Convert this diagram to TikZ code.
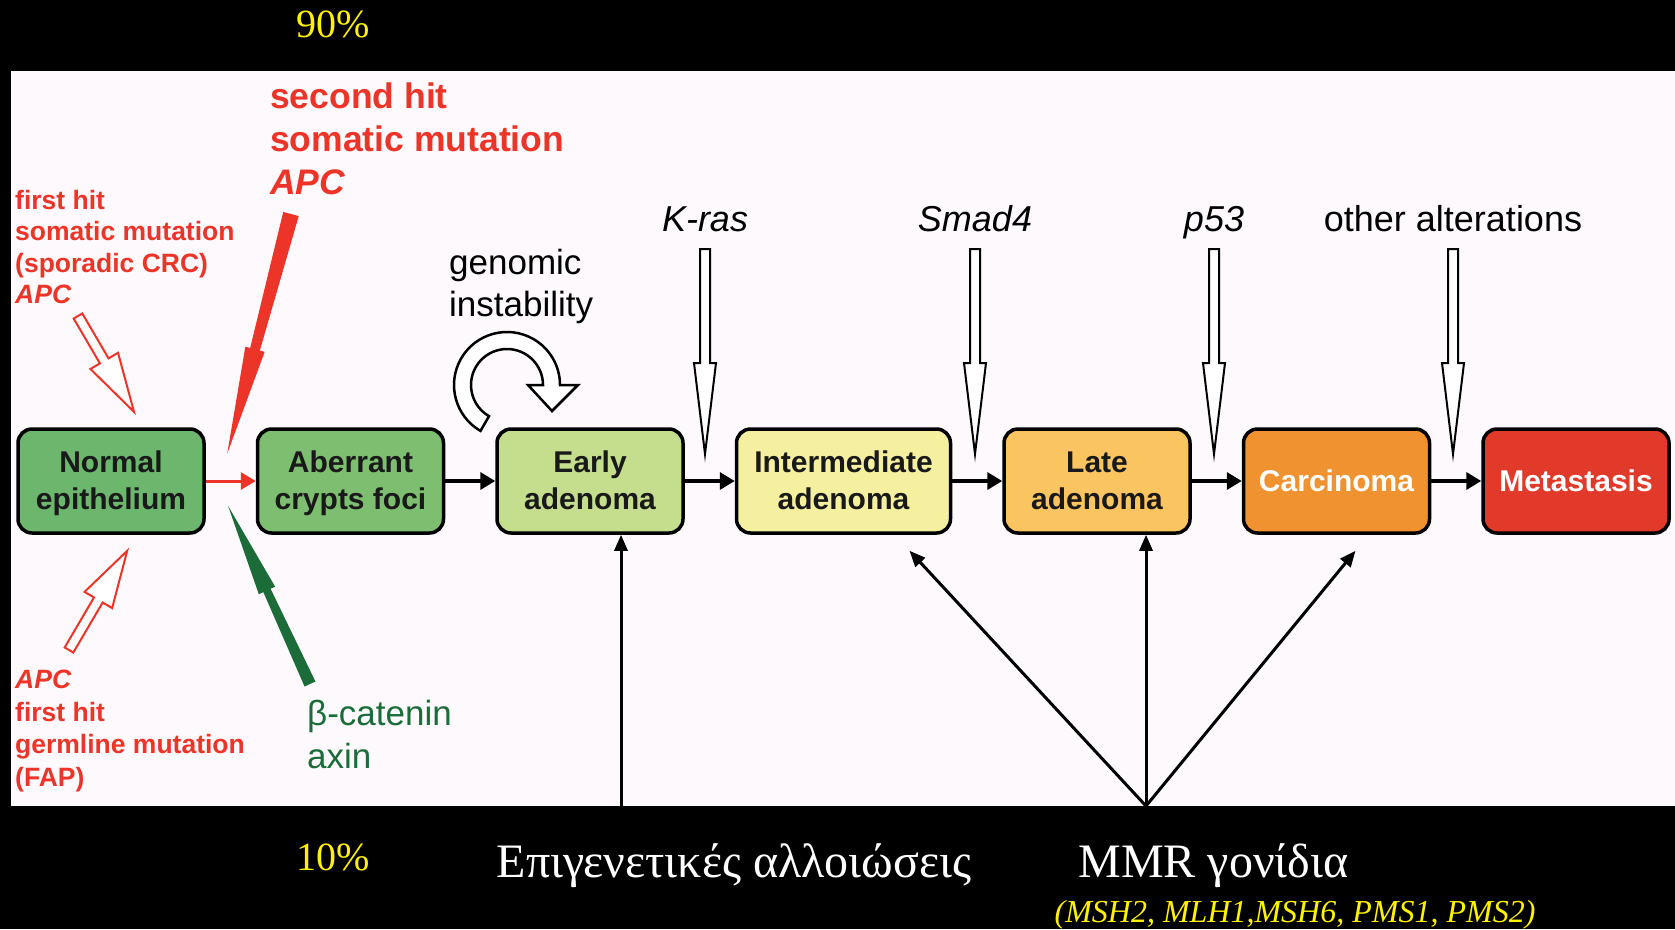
\documentclass[tikz,border=0pt]{standalone}
\usepackage{fontspec}
\setmainfont{Liberation Sans}
\newfontfamily\serifgr{Liberation Serif}
\usetikzlibrary{positioning,calc,arrows.meta}

\definecolor{panel}{RGB}{253,249,252}
\definecolor{hitred}{RGB}{236,52,40}
\definecolor{catgreen}{RGB}{28,108,58}
\definecolor{stnormal}{RGB}{108,182,110}
\definecolor{staberr}{RGB}{126,190,112}
\definecolor{stearly}{RGB}{196,222,142}
\definecolor{stinter}{RGB}{245,240,160}
\definecolor{stlate}{RGB}{250,196,96}
\definecolor{stcarc}{RGB}{240,146,48}
\definecolor{stmeta}{RGB}{226,58,42}
\newcommand\fsz[2]{\fontsize{#1}{#2}\selectfont}
\newcommand\boxstrut{\rule[-9pt]{0pt}{37pt}}

\begin{document}
\begin{tikzpicture}[x=1pt,y=-1pt,
  stage/.style={draw=black,line width=3.5pt,rounded corners=14pt,minimum width=186pt,minimum height=104pt,
    inner sep=0pt,align=center,text=black!90,font=\fsz{30}{37}\bfseries},
  flow/.style={line width=3.5pt,-{Triangle[length=15pt,width=17pt]}},
  upar/.style={line width=3pt,-{Triangle[length=16pt,width=13pt]}},
  hollow/.style={draw=black,fill=white,line width=2pt},
  gene/.style={anchor=base,inner sep=0pt,font=\fsz{36}{40}},
  hit/.style={anchor=west,align=left,inner sep=0pt,text=hitred},
  node distance=50pt]
  \useasboundingbox (0,0) rectangle (1675,929);
  \fill[black] (0,0) rectangle (1675,929);
  \fill[panel] (11,70.5) rectangle (1675,805.5);

  % the stages
  \node[stage,fill=stnormal] (normal) at (111,481) {\boxstrut Normal\\\boxstrut epithelium};
  \node[stage,fill=staberr,right=of normal] (aberr) {\boxstrut Aberrant\\\boxstrut crypts foci};
  \node[stage,fill=stearly,right=of aberr] (early) {\boxstrut Early\\\boxstrut adenoma};
  \node[stage,fill=stinter,minimum width=214pt,right=of early] (inter) {\boxstrut Intermediate\\\boxstrut adenoma};
  \node[stage,fill=stlate,right=of inter] (late) {\boxstrut Late\\\boxstrut adenoma};
  \node[stage,fill=stcarc,text=white,right=of late] (carc) {Carcinoma};
  \node[stage,fill=stmeta,text=white,right=of carc] (meta) {Metastasis};

  \draw[flow,hitred,line width=3pt] (normal) -- (aberr);
  \foreach \a/\b in {aberr/early,early/inter,inter/late,late/carc,carc/meta}
    \draw[flow] (\a) -- (\b);

  % genes hitting the sequence
  \foreach \nm/\xx/\txt in {kras/705/\textit{K-ras},smad/975/\textit{Smad4},pft/1214/\textit{p53},other/1453/other alterations}{
    \node[gene] (\nm) at (\xx,231) {\txt};
    \draw[hollow] (\xx-5,249) -- (\xx+5,249) -- (\xx+5,363) -- (\xx+11,363) -- (\xx,454)
      -- (\xx-11,363) -- (\xx-5,363) -- cycle;
  }

  % APC hits
  \node[hit,font=\fsz{26.5}{31.4}\bfseries] (sporadic) at (15,247) {first hit\\somatic mutation\\(sporadic CRC)\\\textit{APC}};
  \node[hit,font=\fsz{35.5}{42.8}\bfseries] (second) at (270,139) {second hit\\somatic mutation\\\textit{APC}};
  \node[hit,font=\fsz{26.5}{32.5}\bfseries] (germline) at (15,731) {\textit{APC}\\first hit\\germline mutation\\(FAP)};
  \node[hit,text=catgreen,font=\fsz{35}{43}] (catenin) at (307,734) {β-catenin\\axin};
  \begin{scope}[shift={(78,316)},rotate=-59.7]
    \draw[hitred,fill=white,line width=2pt] (0,-5) -- (52,-5) -- (52,-16) -- (111,0) -- (52,16) -- (52,5) -- (0,5) -- cycle;
  \end{scope}
  \begin{scope}[shift={(291,214)},rotate=-104.9]
    \fill[hitred] (0,-8) -- (140,-5) -- (140,-10) -- (248,0) -- (140,10) -- (140,5) -- (0,8) -- cycle;
  \end{scope}
  \begin{scope}[shift={(69,650)},rotate=59.6]
    \draw[hitred,fill=white,line width=2pt] (0,-5) -- (58,-5) -- (58,-16) -- (115,0) -- (58,16) -- (58,5) -- (0,5) -- cycle;
  \end{scope}
  \begin{scope}[shift={(310,684)},rotate=114.7]
    \fill[catgreen] (0,-6) -- (103,-4) -- (103,-9) -- (196,0) -- (103,9) -- (103,4) -- (0,6) -- cycle;
  \end{scope}

  % genomic instability loop
  \node[anchor=west,align=left,inner sep=0pt,font=\fsz{35}{42}] (genomic) at (449,286) {genomic\\instability};
  \coordinate (loop) at (507,385);
  \draw[hollow,line width=2.5pt] ($(loop)+(120:53)$) arc[start angle=120,end angle=360,radius=53] -- ++(18,0)
    -- ($(loop)+(45,26)$) -- ($(loop)+(21,0)$) -- ++(15,0) arc[start angle=360,end angle=120,radius=36] -- cycle;

  % black band texts
  \node[text=yellow,font=\serifgr\fsz{40}{44}] (ninety) at (333,24) {90\%};
  \node[text=yellow,font=\serifgr\fsz{40}{44}] (ten) at (333,857) {10\%};
  \node[anchor=base,text=white,font=\serifgr\fsz{48}{52}] (epigen) at (734,877) {Επιγενετικές αλλοιώσεις};
  \node[anchor=base,text=white,font=\serifgr\fsz{48}{52}] (mmr) at (1213.5,877) {MMR γονίδια};
  \node[anchor=base,text=yellow,font=\serifgr\itshape\fsz{32}{36}] (mmrgenes) at (1295,922) {(MSH2, MLH1,MSH6, PMS1, PMS2)};

  \coordinate (epifoot) at (621,806);
  \coordinate (mmrfoot) at (1146,806);
  \draw[upar] (epifoot) -- (epifoot |- early.south);
  \draw[upar] (mmrfoot) -- ($(inter.south)+(66,16)$);
  \draw[upar] (mmrfoot) -- (mmrfoot |- late.south);
  \draw[upar] (mmrfoot) -- ($(carc.south)+(19,16)$);
\end{tikzpicture}
\end{document}
